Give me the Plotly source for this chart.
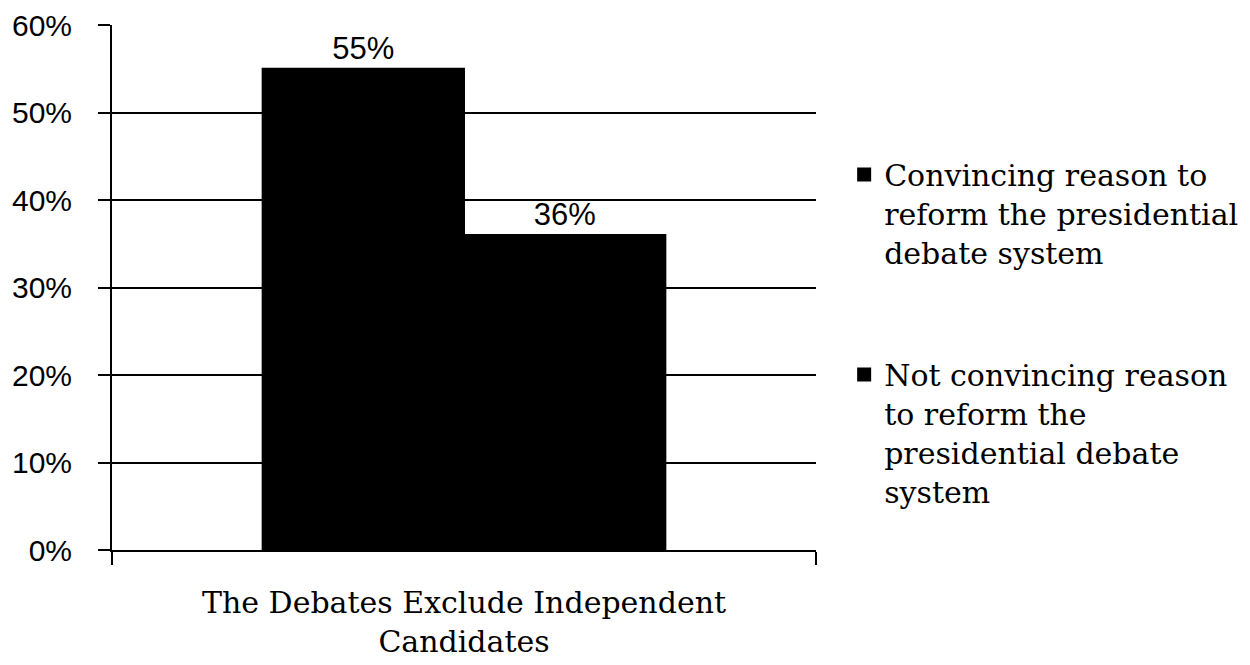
import plotly.graph_objects as go

# Survey responses for one argument about presidential debates
category = ["The Debates Exclude Independent<br>Candidates"]
series_names = [
    "Convincing reason to<br>reform the presidential<br>debate system",
    "Not convincing reason<br>to reform the<br>presidential debate<br>system",
]
series_values = [[0.55], [0.36]]
value_labels = [["55%"], ["36%"]]
y_ticks = [0, 0.1, 0.2, 0.3, 0.4, 0.5, 0.6]

SANS = "Liberation Sans, Arial, sans-serif"
SERIF = "DejaVu Serif, serif"

fig = go.Figure()
for i, (name, vals, labels) in enumerate(zip(series_names, series_values, value_labels)):
    fig.add_trace(go.Bar(
        name=name,
        x=category,
        y=vals,
        text=labels,
        texttemplate="%{text}",
        textposition="outside",
        textfont=dict(family=SANS, size=31, color="black"),
        cliponaxis=False,
        marker=dict(color="black", line=dict(color="black", width=2)),
        legendgroup=f"g{i}",
        hoverinfo="skip",
    ))

fig.update_layout(
    width=1250,
    height=665,
    margin=dict(l=112, r=434, t=25, b=115, autoexpand=False),
    paper_bgcolor="white",
    plot_bgcolor="white",
    barmode="group",
    bargap=0.428,
    bargroupgap=0,
    showlegend=True,
    legend=dict(
        x=1.04,
        xanchor="left",
        y=0.765,
        yanchor="top",
        valign="top",
        font=dict(family=SERIF, size=30, color="black"),
        traceorder="grouped",
        tracegroupgap=80,
        bgcolor="rgba(0,0,0,0)",
    ),
    xaxis=dict(
        type="category",
        tickson="boundaries",
        ticks="outside",
        ticklen=13,
        tickwidth=2,
        tickcolor="black",
        showline=True,
        linecolor="black",
        linewidth=2,
        showgrid=False,
        tickfont=dict(family=SERIF, size=30, color="black"),
        ticklabelstandoff=25,
    ),
    yaxis=dict(
        range=[0, 0.6],
        tickvals=y_ticks,
        tickformat=".0%",
        ticks="outside",
        ticklen=12,
        tickwidth=2,
        tickcolor="black",
        showline=True,
        linecolor="black",
        linewidth=2,
        showgrid=True,
        gridcolor="black",
        gridwidth=2,
        zeroline=False,
        tickfont=dict(family=SANS, size=30, color="black"),
        ticklabelstandoff=20,
    ),
)

fig.write_html("out.html")
